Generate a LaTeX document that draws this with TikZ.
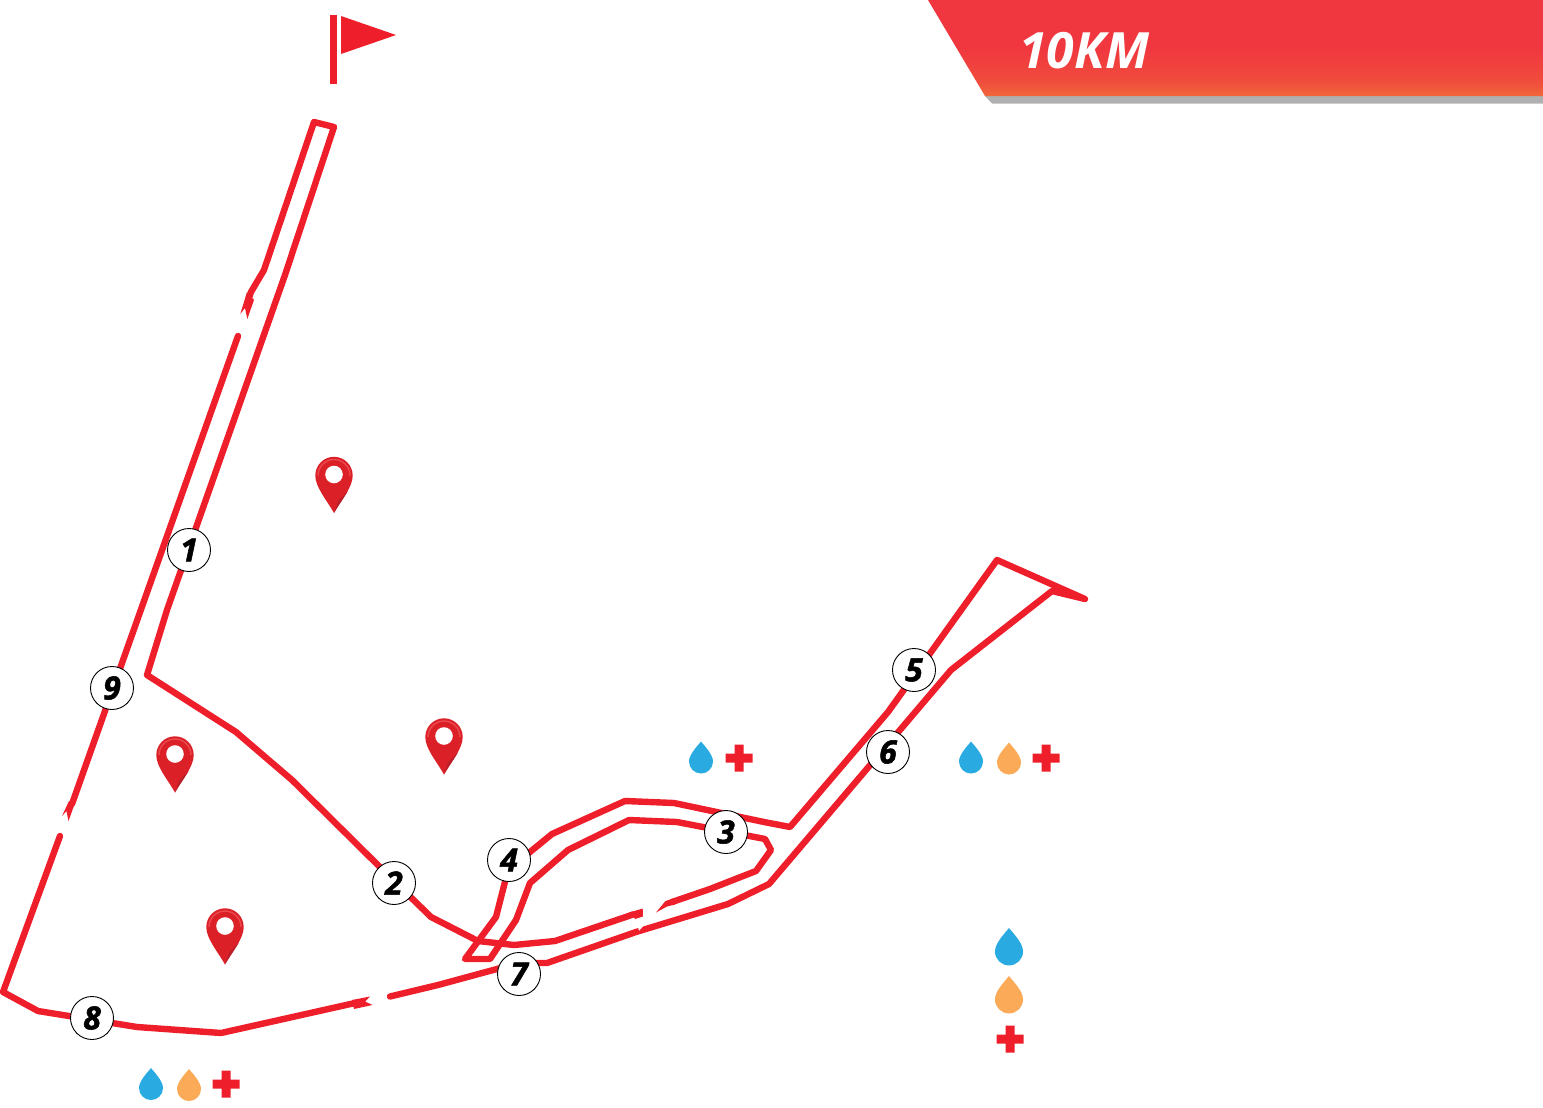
\documentclass[tikz,border=0pt]{standalone}
\usepackage{fontspec}
\setmainfont{Open Sans}
\newfontfamily\badgefont[BoldItalicFeatures={FakeBold=1.6}]{Open Sans}
\definecolor{bannerlow}{HTML}{F1663A}
\definecolor{bannermid}{HTML}{F04C3D}
\definecolor{bannertop}{HTML}{F0373F}
\pgfdeclareverticalshading{banner}{100bp}{color(0bp)=(bannerlow); color(25bp)=(bannerlow); color(33bp)=(bannermid); color(50bp)=(bannertop); color(75bp)=(bannertop); color(100bp)=(bannertop)}
\definecolor{routered}{HTML}{EE1F2A}
\definecolor{pinred}{HTML}{DC2027}
\definecolor{pindark}{HTML}{B91F29}
\definecolor{pinlight}{HTML}{EA4A4F}
\definecolor{waterblue}{HTML}{29ABE2}
\definecolor{sportorange}{HTML}{FBAB57}
\tikzset{
  x=0.5pt,y=-0.5pt,
  route/.style={draw=routered,line width=3.2pt,line join=round,line cap=round},
  routeend/.style={fill=routered},
  notch/.style={fill=white},
  badge/.style={circle,draw=black,line width=0.45pt,fill=white,minimum size=21.5pt,inner sep=0pt,font=\badgefont\fontsize{16}{16}\selectfont\bfseries\itshape,text=black},
  pics/pin/.style={code={
    \fill[pinred] (0,0) .. controls (-8,-14) and (-18.7,-26) .. (-18.7,-37.5) arc[start angle=180,end angle=0,radius=9.35pt] .. controls (18.7,-26) and (8,-14) .. (0,0) -- cycle;
    \fill[pindark] (0,0) .. controls (4,-7) and (9,-14) .. (14,-22) -- (4,-12) -- cycle;
    \draw[pinlight,line width=0.7pt] (-16,-37.5) arc[start angle=180,end angle=0,radius=8pt];
    \fill[white] (0,-38.5) circle[radius=4.4pt];
  }},
  pics/drop/.style={code={
    \fill[#1] (0,0) .. controls (4,5) and (12,13) .. (12,20) arc[start angle=0,end angle=-180,radius=6pt] .. controls (-12,13) and (-4,5) .. (0,0) -- cycle;
  }},
  pics/cross/.style={code={
    \fill[routered] (-4.5,-13.5) -- (4.5,-13.5) -- (4.5,-4.5) -- (13.5,-4.5) -- (13.5,4.5) -- (4.5,4.5) -- (4.5,13.5) -- (-4.5,13.5) -- (-4.5,4.5) -- (-13.5,4.5) -- (-13.5,-4.5) -- (-4.5,-4.5) -- cycle;
  }}
}
\begin{document}
\begin{tikzpicture}
\useasboundingbox (0,0) rectangle (1543,1108);
% banner
\fill[black!31] (985,96) -- (1543,96) -- (1543,103.5) -- (992,103.5) -- cycle;
\path[shading=banner] (928,0) -- (1543,0) -- (1543,96) -- (985,96) -- cycle;
\node[anchor=west,inner sep=0pt,text=white,font=\fontsize{25}{25}\selectfont\bfseries\itshape] (title) at (1019,51) {10KM};
% flag
\fill[routered] (330,15) rectangle (337,84);
\fill[routered] (341,16) -- (396,35) -- (341,54) -- cycle;
% route
\draw[route] (238,336) -- (72,804);
\fill[routeend] (62,816) -- (66.5,811) -- (68.5,821) -- (75,803) -- (69,801) -- cycle;
\draw[route] (60,836) -- (3,992) -- (38,1011) -- (137,1027) -- (221,1033) -- (355,1003);
\fill[routeend] (352,1000) -- (370,996.5) -- (365,1001.5) -- (372.5,1005) -- (354,1009) -- cycle;
\draw[route] (390,996.5) -- (438,985) -- (519,963) -- (547,963) -- (636,932) -- (728,904) -- (769,884) -- (951,670) -- (1052,591) -- (1085,599) -- (997,560) -- (888,712) -- (790,827) -- (764,822) -- (674,803) -- (625,801) -- (552,834) -- (508,870) -- (496,917) -- (465,959) -- (490,959) -- (516,920) -- (530,883) -- (568,850) -- (629,820) -- (677,822) -- (765,839) -- (771,850) -- (756,871) -- (710,889) -- (672,902);
\fill[routeend] (656,912.5) -- (665.5,901) -- (673,898.5) -- (675,904.5) -- (667,906.5) -- cycle;
\fill[notch] (637,926) -- (646,923) -- (639.3,930.5) -- cycle;
\draw[route] (633,914.5) -- (555,941) -- (514,945) -- (478,941) -- (431,917) -- (393,880) -- (292,780) -- (236,732) -- (147,675) -- (167,610) -- (285,275) -- (334,127) -- (314,122) -- (264,270) -- (251,292) -- (249,298);
\fill[routeend] (631,912) -- (642.7,908.5) -- (643,916.5) -- (635,919) -- cycle;
\fill[routeend] (240.3,314) -- (245,308) -- (247.3,319) -- (254,300) -- (247,292) -- cycle;
% pins
\pic at (334,513) {pin};
\pic at (444,774.5) {pin};
\pic at (175,792.5) {pin};
\pic at (225,964.5) {pin};
% aid stations
\pic at (701,741.5) {drop=waterblue};
\pic at (739,758) {cross};
\pic at (971,741.5) {drop=waterblue};
\pic at (1009,742.5) {drop=sportorange};
\pic at (1046,758) {cross};
\pic[scale=1.17] at (1009,928) {drop=waterblue};
\pic[scale=1.17] at (1009,976) {drop=sportorange};
\pic at (1010,1039) {cross};
\pic at (151,1068) {drop=waterblue};
\pic at (189,1069) {drop=sportorange};
\pic at (226,1084) {cross};
% badges
\node[badge] (b1) at (189,550) {1};
\node[badge] (b2) at (394,883) {2};
\node[badge] (b3) at (726,832) {3};
\node[badge] (b4) at (509,860) {4};
\node[badge] (b5) at (914,670) {5};
\node[badge] (b6) at (888,752) {6};
\node[badge] (b7) at (519,974) {7};
\node[badge] (b8) at (92,1018) {8};
\node[badge] (b9) at (112,688) {9};
\end{tikzpicture}
\end{document}
